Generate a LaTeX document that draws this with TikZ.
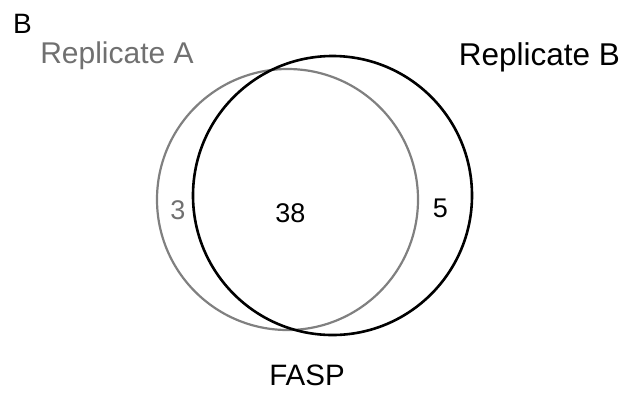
\documentclass[tikz,border=0pt]{standalone}
\usepackage{fontspec}
\setmainfont{Liberation Sans}
\definecolor{setgray}{RGB}{128,128,128}
\definecolor{labgray}{RGB}{112,112,112}
\tikzset{
  lab/.style={inner sep=0pt, anchor=base},
  circA/.style={draw=setgray, line width=2.2pt},
  circB/.style={draw=black, line width=2.6pt},
}
\begin{document}
\begin{tikzpicture}[x=1pt,y=-1pt]
\useasboundingbox (0,0) rectangle (626,392);
\draw[circA] (287.5,199.5) circle[radius=130.5];
\draw[circB] (332.5,195.5) circle[radius=139.5];
\node[lab, font=\fontsize{28}{30}\selectfont] (panel) at (22.5,33) {B};
\node[lab, text=labgray, font=\fontsize{30}{32}\selectfont] (repA) at (117,63) {Replicate A};
\node[lab, font=\fontsize{31.5}{33}\selectfont] (repB) at (539.5,65) {Replicate B};
\node[lab, text=labgray, font=\fontsize{27}{29}\selectfont] (onlyA) at (178,219) {3};
\node[lab, font=\fontsize{27}{29}\selectfont] (both) at (290.5,222) {38};
\node[lab, font=\fontsize{27}{29}\selectfont] (onlyB) at (440.5,217) {5};
\node[lab, font=\fontsize{29.5}{31}\selectfont] (method) at (307,385) {FASP};
\end{tikzpicture}
\end{document}
